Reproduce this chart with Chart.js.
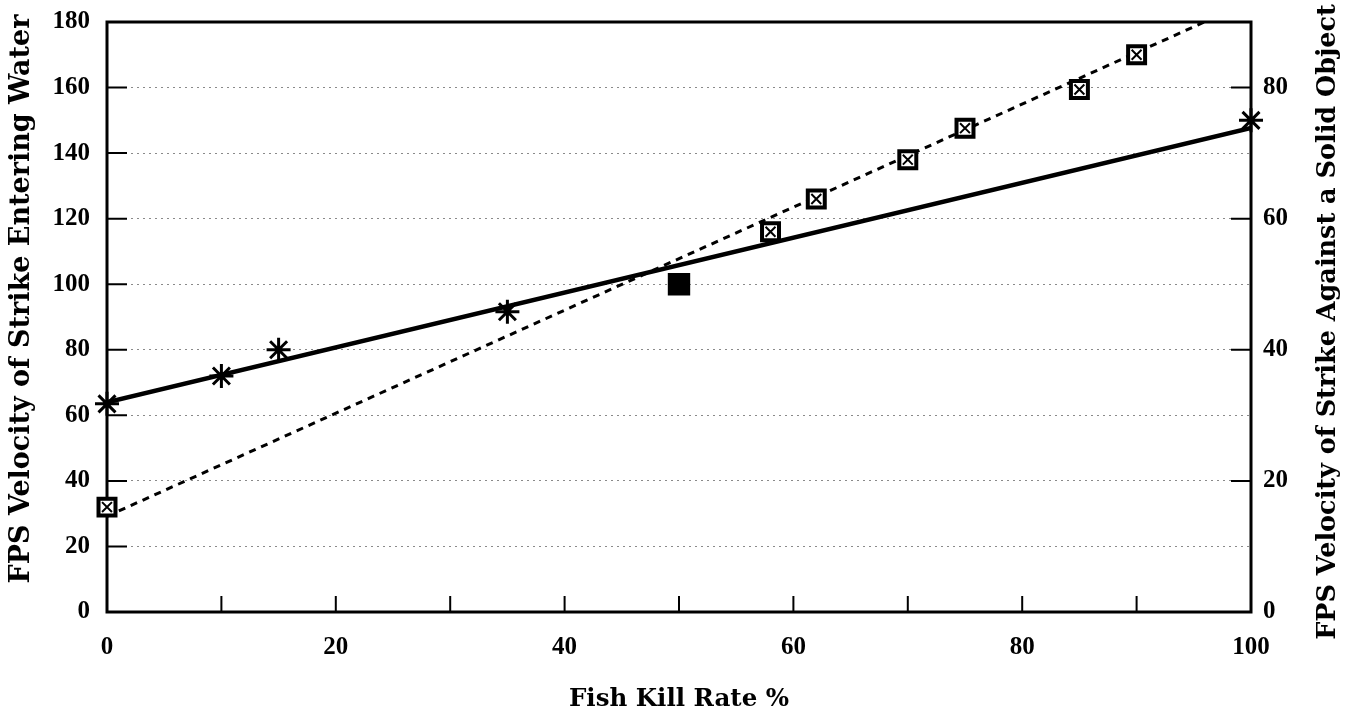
<!DOCTYPE html>
<html>
<head>
<meta charset="utf-8">
<script src="https://cdn.jsdelivr.net/npm/chart.js@4"></script>
<style>
  html, body { margin: 0; background: #fff; }
  #wrap { width: 1351px; height: 717px; }
</style>
</head>
<body>
<div id="wrap"><canvas id="chart"></canvas></div>
<script>
// data
const waterKill = [0, 10, 15, 35, 100];
const waterFps = [63.5, 72, 80, 91.6, 150];
const solidKill = [0, 50, 58, 62, 70, 75, 85, 90];
const solidFps = [16, 50, 58, 63, 69, 73.8, 79.7, 85];
const fitKill = [0, 100];
const waterFit = [64, 147.7];
const solidFit = [14.6, 93.2];

const xTicks = [0, 10, 20, 30, 40, 50, 60, 70, 80, 90, 100];
const leftTicks = [0, 20, 40, 60, 80, 100, 120, 140, 160, 180];
const rightTicks = [0, 20, 40, 60, 80];

const xTitle = "Fish Kill Rate %";
const leftTitle = "FPS Velocity of Strike Entering Water";
const rightTitle = "FPS Velocity of Strike Against a Solid Object";

const toPts = (xs, ys) => xs.map((x, i) => ({ x: x, y: ys[i] }));
const tickFont = { family: "Liberation Serif", weight: "bold", size: 25 };

// box round the plot, inward tick marks and the two side titles
const frame = {
  id: "frame",
  beforeDatasetsDraw(chart) {
    const { ctx, chartArea: a, scales } = chart;
    ctx.save();
    ctx.strokeStyle = "#000";
    ctx.lineWidth = 2;
    ctx.beginPath();
    xTicks.forEach((v) => {
      const px = scales.x.getPixelForValue(v);
      ctx.moveTo(px, a.bottom);
      ctx.lineTo(px, a.bottom - 16);
    });
    leftTicks.forEach((v) => {
      const py = scales.y.getPixelForValue(v);
      ctx.moveTo(a.left, py);
      ctx.lineTo(a.left + 20, py);
    });
    rightTicks.forEach((v) => {
      const py = scales.y2.getPixelForValue(v);
      ctx.moveTo(a.right, py);
      ctx.lineTo(a.right - 20, py);
    });
    ctx.stroke();
    ctx.lineWidth = 3;
    ctx.strokeRect(a.left, a.top, a.right - a.left, a.bottom - a.top);
    ctx.restore();
  },
  afterDraw(chart) {
    const ctx = chart.ctx;
    ctx.save();
    ctx.fillStyle = "#000";
    ctx.textAlign = "center";
    ctx.textBaseline = "middle";
    [[22, 299, leftTitle, 27], [1328, 322, rightTitle, 25.5]].forEach(([x, y, t, size]) => {
      ctx.save();
      ctx.font = "bold " + size + "px 'DejaVu Serif'";
      ctx.translate(x, y);
      ctx.rotate(-Math.PI / 2);
      ctx.fillText(t, 0, 0);
      ctx.restore();
    });
    ctx.restore();
  },
};

const noPad = (s) => {
  s.paddingTop = 0;
  s.paddingBottom = 0;
  s.paddingLeft = 0;
  s.paddingRight = 0;
};

Chart.defaults.font.family = "DejaVu Serif";
Chart.defaults.color = "#000";

new Chart(document.getElementById("chart"), {
  type: "scatter",
  data: {
    datasets: [
      {
        data: toPts(solidKill, solidFps),
        yAxisID: "y2",
        pointStyle: "crossRot",
        pointRadius: 7,
        borderColor: "#000",
        pointBorderWidth: 2,
        clip: false,
      },
      {
        data: toPts(solidKill, solidFps),
        yAxisID: "y2",
        pointStyle: "rect",
        pointRadius: solidKill.map((k) => (k === 50 ? 13 : 12)),
        borderColor: "#000",
        pointBorderWidth: 4,
        pointBackgroundColor: solidKill.map((k) => (k === 50 ? "#000" : "#fff")),
        clip: false,
      },
      {
        data: toPts(waterKill, waterFps),
        yAxisID: "y",
        pointStyle: "star",
        pointRadius: 12,
        borderColor: "#000",
        pointBorderWidth: 3,
        clip: false,
      },
      {
        data: toPts(fitKill, waterFit),
        yAxisID: "y",
        showLine: true,
        borderColor: "#000",
        borderWidth: 4.5,
        pointRadius: 0,
      },
      {
        data: toPts(fitKill, solidFit),
        yAxisID: "y2",
        showLine: true,
        borderColor: "#000",
        borderWidth: 3,
        borderDash: [7, 6],
        pointRadius: 0,
      },
    ],
  },
  options: {
    responsive: true,
    maintainAspectRatio: false,
    animation: false,
    layout: { padding: { top: 22, left: 0, right: 0, bottom: 0 } },
    plugins: { legend: { display: false }, tooltip: { enabled: false } },
    scales: {
      x: {
        type: "linear",
        min: 0,
        max: 100,
        afterBuildTicks: (s) => { s.ticks = xTicks.map((v) => ({ value: v })); },
        afterFit: (s) => { s.height = 105; noPad(s); },
        grid: { display: false },
        border: { display: false },
        ticks: {
          autoSkip: false,
          maxRotation: 0,
          padding: 13,
          font: tickFont,
          callback: (v) => (v % 20 === 0 ? v : ""),
        },
        title: {
          display: true,
          text: xTitle,
          font: { family: "DejaVu Serif", weight: "bold", size: 24.5 },
          padding: { top: 0, bottom: 3 },
        },
      },
      y: {
        position: "left",
        min: 0,
        max: 180,
        afterBuildTicks: (s) => { s.ticks = leftTicks.map((v) => ({ value: v })); },
        afterFit: (s) => { s.width = 107; noPad(s); },
        grid: {
          drawTicks: false,
          color: (c) => (c.tick && (c.tick.value === 0 || c.tick.value === 180) ? "rgba(0,0,0,0)" : "#8a8a8a"),
          lineWidth: 1,
        },
        border: { display: false, dash: [2, 4] },
        ticks: { padding: 17, font: tickFont },
      },
      y2: {
        position: "right",
        min: 0,
        max: 90,
        afterBuildTicks: (s) => { s.ticks = rightTicks.map((v) => ({ value: v })); },
        afterFit: (s) => { s.width = 100; noPad(s); },
        grid: { display: false, drawTicks: false },
        border: { display: false },
        ticks: { padding: 12, font: tickFont },
      },
    },
  },
  plugins: [frame],
});
</script>
</body>
</html>
